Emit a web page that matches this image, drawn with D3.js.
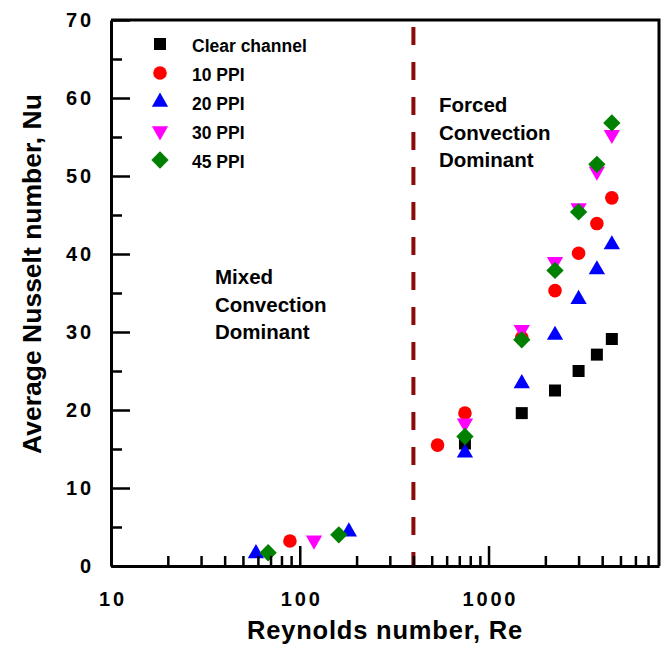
<!DOCTYPE html>
<html>
<head>
<meta charset="utf-8">
<script src="https://cdn.jsdelivr.net/npm/d3@7"></script>
<style>
  body { margin: 0; background: #fff; }
  svg { display: block; font-family: "Liberation Sans", Arial, sans-serif; font-weight: bold; }
</style>
</head>
<body>
<svg id="chart"></svg>
<script>
// values
const seriesNames = ["Clear channel", "10 PPI", "20 PPI", "30 PPI", "45 PPI"];

const clearRe = [750, 1500, 2250, 3000, 3750, 4500];
const clearNu = [15.7, 19.6, 22.5, 25.0, 27.1, 29.1];

const ppi10Re = [88.7, 537, 750, 1500, 2250, 3000, 3750, 4500];
const ppi10Nu = [3.2, 15.5, 19.6, 29.3, 35.3, 40.1, 43.9, 47.2];

const ppi20Re = [58.6, 182, 750, 1500, 2250, 3000, 3750, 4500];
const ppi20Nu = [1.6, 4.4, 14.5, 23.4, 29.6, 34.2, 38.0, 41.2];

const ppi30Re = [119, 750, 1500, 2250, 3000, 3750, 4500];
const ppi30Nu = [3.3, 18.3, 30.3, 39.0, 45.9, 50.6, 55.3];

const ppi45Re = [68, 161, 750, 1500, 2250, 3000, 3750, 4500];
const ppi45Nu = [1.7, 4.0, 16.6, 29.0, 37.9, 45.4, 51.5, 56.8];

const xMajor = [10, 100, 1000];
const xMinor = [20, 30, 40, 50, 60, 70, 80, 90, 200, 300, 400, 500, 600, 700, 800, 900,
                2000, 3000, 4000, 5000, 6000, 7000];
const yMajor = [0, 10, 20, 30, 40, 50, 60, 70];
const yMinor = [5, 15, 25, 35, 45, 55, 65];

const transitionRe = 400;

const width = 664, height = 648;
const margin = {top: 20, right: 5, bottom: 82, left: 111};

const svg = d3.select("#chart").attr("width", width).attr("height", height);

const x = d3.scaleLog().domain([10, 8000]).range([margin.left, width - margin.right]);
const y = d3.scaleLinear().domain([0, 70]).range([height - margin.bottom, margin.top]);

const series = [
    {name: seriesNames[0], re: clearRe, nu: clearNu, color: "#000000", type: d3.symbolSquare, size: 144, rot: 0},
    {name: seriesNames[1], re: ppi10Re, nu: ppi10Nu, color: "#ff0000", type: d3.symbolCircle, size: 145, rot: 0},
    {name: seriesNames[2], re: ppi20Re, nu: ppi20Nu, color: "#0000ff", type: d3.symbolTriangle, size: 115, rot: 0},
    {name: seriesNames[3], re: ppi30Re, nu: ppi30Nu, color: "#ff00ff", type: d3.symbolTriangle, size: 115, rot: 180},
    {name: seriesNames[4], re: ppi45Re, nu: ppi45Nu, color: "#008000", type: d3.symbolSquare, size: 150, rot: 45}
];

// transition line
svg.append("line")
    .attr("x1", x(transitionRe)).attr("x2", x(transitionRe))
    .attr("y1", y(0)).attr("y2", y(70))
    .attr("stroke", "#8b0a0a")
    .attr("stroke-width", 4)
    .attr("stroke-dasharray", "18,17")
    .attr("stroke-dashoffset", 4);

// points
series.forEach(s => {
    svg.append("g")
        .selectAll("path")
        .data(s.re.map((r, i) => [r, s.nu[i]]))
        .join("path")
        .attr("d", d3.symbol().type(s.type).size(s.size))
        .attr("transform", d => `translate(${x(d[0])},${y(d[1])}) rotate(${s.rot})`)
        .attr("fill", s.color);
});

// axes
const xAxisY = y(0);
const xMinorAxis = svg.append("g")
    .attr("transform", `translate(0,${xAxisY})`)
    .call(d3.axisBottom(x).tickValues(xMinor).tickSize(-10).tickFormat(""));
const xMajorAxis = svg.append("g")
    .attr("transform", `translate(0,${xAxisY})`)
    .call(d3.axisBottom(x).tickValues(xMajor).tickSize(-20).tickSizeOuter(0)
        .tickPadding(26).tickFormat(d3.format("d")));
xMinorAxis.select(".domain").remove();

const yMinorAxis = svg.append("g")
    .attr("transform", `translate(${margin.left},0)`)
    .call(d3.axisLeft(y).tickValues(yMinor).tickSize(-11).tickFormat(""));
const yMajorAxis = svg.append("g")
    .attr("transform", `translate(${margin.left},0)`)
    .call(d3.axisLeft(y).tickValues(yMajor).tickSize(-19).tickSizeOuter(0).tickPadding(20));
yMinorAxis.select(".domain").remove();

svg.selectAll(".domain").attr("stroke", "#000").attr("stroke-width", 3);
svg.selectAll(".tick line").attr("stroke", "#000").attr("stroke-width", 2.5);
[xMajorAxis, yMajorAxis].forEach(a => a.selectAll(".tick text")
    .attr("fill", "#000")
    .style("font-size", "20px")
    .style("letter-spacing", "2.8px")
    .style("font-family", "'Liberation Sans', Arial, sans-serif")
    .style("font-weight", "bold"));
xMajorAxis.selectAll(".tick text").attr("dx", "1.4");
yMajorAxis.selectAll(".tick text").attr("dx", "2.8");

// frame top and right
svg.append("path")
    .attr("d", `M${margin.left},${y(70)}H${x(8000)}V${y(0)}`)
    .attr("fill", "none")
    .attr("stroke", "#000")
    .attr("stroke-width", 3);

// axis titles
svg.append("text")
    .attr("x", (x.range()[0] + x.range()[1]) / 2)
    .attr("y", 639)
    .attr("text-anchor", "middle")
    .style("font-size", "25.5px")
    .style("letter-spacing", "0.8px")
    .text("Reynolds number, Re");

svg.append("text")
    .attr("transform", "translate(41,274) rotate(-90)")
    .attr("text-anchor", "middle")
    .style("font-size", "26.5px")
    .text("Average Nusselt number, Nu");

// legend
const legend = svg.append("g");
series.forEach((s, i) => {
    const cy = 44 + i * 29;
    legend.append("path")
        .attr("d", d3.symbol().type(s.type).size(s.size))
        .attr("transform", `translate(160,${cy}) rotate(${s.rot})`)
        .attr("fill", s.color);
    legend.append("text")
        .attr("x", 192)
        .attr("y", cy + 8)
        .style("font-size", "17.5px")
        .text(s.name);
});

// regime notes
const notes = [
    {x: 215, y: 284, lines: ["Mixed", "Convection", "Dominant"]},
    {x: 439, y: 112, lines: ["Forced", "Convection", "Dominant"]}
];
notes.forEach(n => {
    const t = svg.append("text").style("font-size", "20.5px");
    n.lines.forEach((l, i) => {
        t.append("tspan").attr("x", n.x).attr("y", n.y + i * 27.5).text(l);
    });
});
</script>
</body>
</html>
